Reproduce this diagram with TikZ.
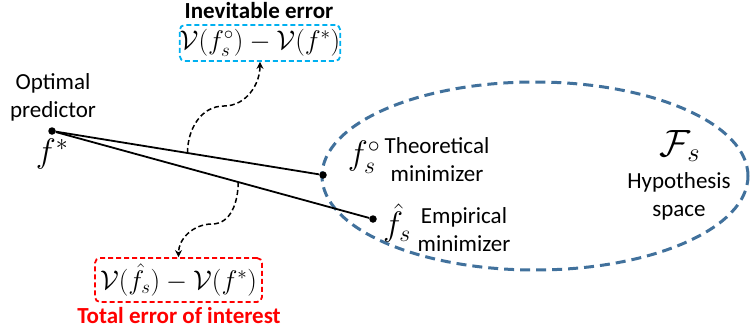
\RequirePackage{fix-cm}
\documentclass[tikz,border=0pt]{standalone}
\usepackage{fontspec}
\setmainfont{Carlito}
\usepackage{amsmath}
\usetikzlibrary{arrows.meta,shapes.geometric,calc}
\definecolor{ellblue}{RGB}{65,113,156}
\definecolor{boxcyan}{RGB}{0,176,240}
\definecolor{boxred}{RGB}{255,0,0}
\begin{document}
\begin{tikzpicture}[x=1pt,y=-1pt,
  dot/.style={circle,fill=black,inner sep=0pt,minimum size=7.5pt},
  conn/.style={line width=1.8pt},
  wave/.style={dashed,dash pattern=on 5pt off 3pt,line width=1.5pt,-{Stealth[length=7pt,width=7pt]}},
  lab/.style={font=\fontsize{23}{28}\selectfont,align=center,inner sep=0pt},
  ttl/.style={font=\fontsize{23}{28}\selectfont\bfseries,inner sep=0pt},
  mlab/.style={font=\fontsize{34}{36}\selectfont,inner sep=0pt},
  errbox/.style={draw,dashed,dash pattern=on 5pt off 3pt,line width=1.8pt,rounded corners=5pt,inner sep=0pt,font=\fontsize{27}{29}\selectfont},
  hyp/.style={ellipse,draw=ellblue,line width=3pt,dash pattern=on 10pt off 6pt,inner sep=0pt}]
\useasboundingbox (0,0) rectangle (753,332);
% hypothesis space
\node[hyp,minimum width=426pt,minimum height=188pt] (space) at (535,176) {};
% points
\node[dot] (fstar) at (52,131) {};
\node[dot] (ft) at (323,175) {};
\node[dot] (fe) at (373,219) {};
\draw[conn] (fstar) -- (ft);
\draw[conn] (fstar) -- (fe);
% labels
\node[lab] (optlab) at (53,97) {Optimal\\predictor};
\node[mlab] (fstarlab) at (52,154) {$f^*$};
\node[mlab] (ftlab) at (364,157) {$f_s^\circ$};
\node[lab] (ttext) at (437,160) {Theoretical\\minimizer};
\node[mlab] (felab) at (397,223) {$\hat{f}_s$};
\node[lab] (etext) at (464,230) {Empirical\\minimizer};
\node[mlab,font=\fontsize{38}{40}\selectfont] (Fs) at (680,146) {$\mathcal{F}_s$};
\node[lab] (htext) at (679,196) {Hypothesis\\space};
% error boxes
\node[errbox,draw=boxcyan,minimum width=160pt,minimum height=36pt] (bluebox) at (260,43)
  {$\mathcal{V}(f_s^\circ)-\mathcal{V}(f^*)$};
\node[ttl] (bluetitle) at (259,11) {Inevitable error};
\node[errbox,draw=boxred,minimum width=167pt,minimum height=44pt] (redbox) at (178.5,280)
  {$\mathcal{V}(\hat{f}_s)-\mathcal{V}(f^*)$};
\node[ttl,text=boxred] (redtitle) at (179,316) {Total error of interest};
% dashed arrows
\coordinate (s1) at ($(fstar)!0.5!(ft)$);
\coordinate (s2) at ($(fstar)!0.58!(fe)$);
\draw[wave] (s1) to[out=90,in=180] (224,106) to[out=0,in=-90] (bluebox.south);
\draw[wave] (s2) to[out=-90,in=0] (212,224) to[out=180,in=90] (redbox.north);
\end{tikzpicture}
\end{document}
